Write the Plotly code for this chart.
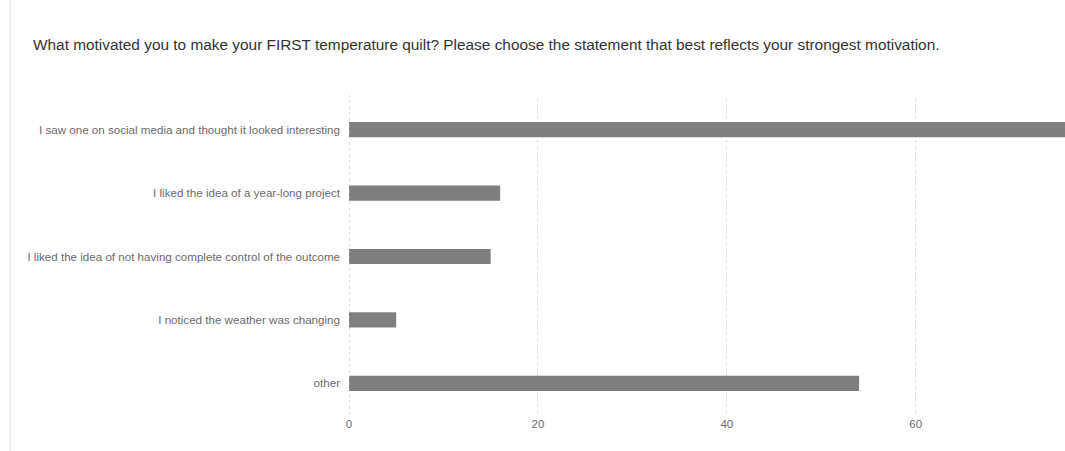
import plotly.graph_objects as go

categories = [
    "I saw one on social media and thought it looked interesting",
    "I liked the idea of a year-long project",
    "I liked the idea of not having complete control of the outcome",
    "I noticed the weather was changing",
    "other",
]
counts = [76, 16, 15, 5, 54]
x_ticks = [0, 20, 40, 60]
title_text = ("What motivated you to make your FIRST temperature quilt? "
              "Please choose the statement that best reflects your strongest motivation.")

fig = go.Figure(go.Bar(
    y=categories, x=counts, orientation="h",
    marker=dict(color="#7f7f7f", line=dict(width=0)),
    width=0.24,
))

fig.update_layout(
    width=1065, height=451,
    margin=dict(l=349, r=0, t=98, b=36),
    paper_bgcolor="white", plot_bgcolor="white",
    font=dict(family="Liberation Sans, Arial, sans-serif", color="#6b6b6b", size=11.6),
    showlegend=False,
    bargap=0.76,
    annotations=[dict(
        text=title_text, xref="paper", yref="paper", x=-349/716 + 31/716, y=1,
        xanchor="left", yanchor="middle", yshift=54, showarrow=False,
        font=dict(size=15.4, color="#333333", family="Liberation Sans, Arial, sans-serif"),
    )],
    shapes=[
        dict(type="line", xref="paper", yref="paper", x0=-339/716, x1=-339/716,
             y0=-36/317, y1=1 + 98/317, line=dict(color="#dcdcdc", width=1)),
        dict(type="line", xref="x", yref="paper", x0=0, x1=0, y0=0, y1=1.01,
             line=dict(color="#bdbdbd", width=1, dash="dot")),
    ],
)
fig.update_xaxes(
    range=[0, 75.8], tickvals=x_ticks, showgrid=True, gridcolor="#dedede",
    griddash="dot", gridwidth=1, zeroline=False, showline=False,
    ticks="", tickfont=dict(size=11.6, color="#6b6b6b"), fixedrange=True,
)
fig.update_yaxes(
    categoryorder="array", categoryarray=categories[::-1],
    showgrid=False, zeroline=False, showline=False, ticks="",
    ticklabelstandoff=8, tickfont=dict(size=11.6, color="#6b6b6b"),
)

fig.write_html("out.html", config={"displayModeBar": False},
               post_script="document.body.style.margin='0';document.body.style.overflow='hidden';")
